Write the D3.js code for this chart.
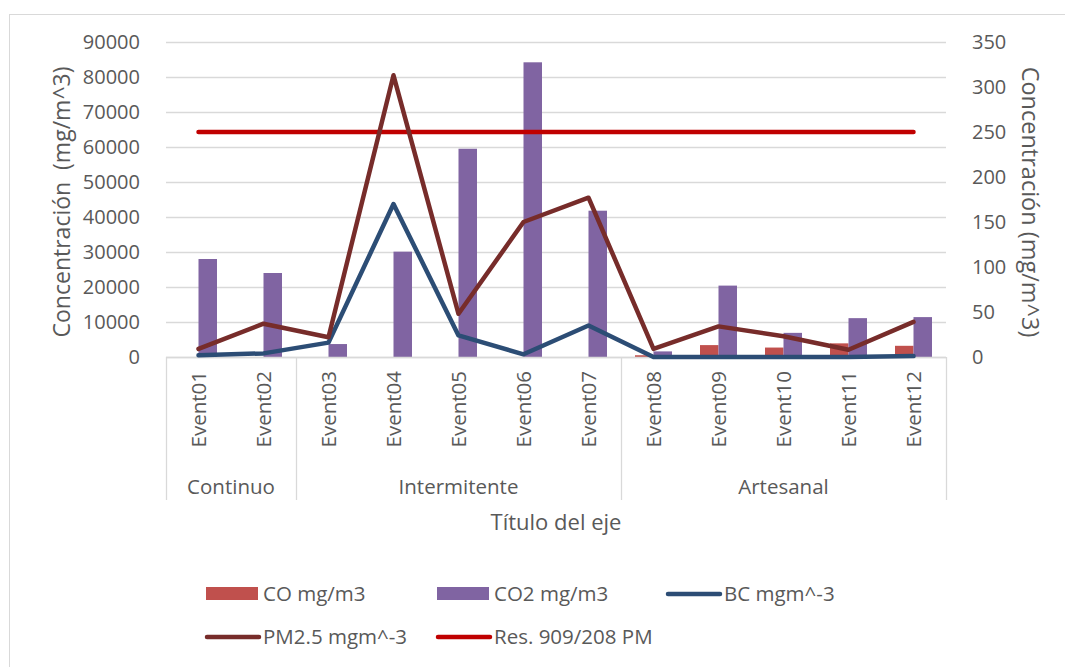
<html>
<head>
<script src="https://cdn.jsdelivr.net/npm/d3@7"></script>
<style>
  body { margin: 0; background: #fff; }
  text { font-family: "Open Sans", sans-serif; fill: #595959; }
</style>
</head>
<body>
<script>
// data
const events = ["Event01","Event02","Event03","Event04","Event05","Event06","Event07","Event08","Event09","Event10","Event11","Event12"];
const groups = [
  {name: "Continuo", from: 0, to: 1},
  {name: "Intermitente", from: 2, to: 6},
  {name: "Artesanal", from: 7, to: 11}
];
const co  = [0, 0, 0, 0, 0, 0, 0, 500, 3400, 2700, 3900, 3200];
const co2 = [28000, 24000, 3700, 30100, 59500, 84200, 41800, 1600, 20400, 6900, 11100, 11400];
const bc  = [2, 4, 16, 170, 24, 3, 35, 0, 0, 0, 0, 1];
const pm25 = [9, 37, 22, 313, 48, 150, 177, 9, 34, 23, 8, 39];
const resLimit = [250, 250, 250, 250, 250, 250, 250, 250, 250, 250, 250, 250];
const leftTicks = [0, 10000, 20000, 30000, 40000, 50000, 60000, 70000, 80000, 90000];
const rightTicks = [0, 50, 100, 150, 200, 250, 300, 350];

const width = 1065, height = 667;
const margin = {top: 42, right: 119, bottom: 310, left: 166};
const grid = "#D9D9D9";

const svg = d3.select("body").append("svg")
  .attr("width", width).attr("height", height);

svg.append("rect")
  .attr("x", 9.5).attr("y", 14.5)
  .attr("width", 1070).attr("height", 670)
  .attr("fill", "none").attr("stroke", grid);

x = d3.scaleBand()
  .domain(events)
  .range([margin.left, width - margin.right])
  .padding(0);

xSub = d3.scaleBand()
  .domain(["co", "co2"])
  .range([14, x.bandwidth() - 14]);

yL = d3.scaleLinear()
  .domain([0, 90000])
  .range([height - margin.bottom, margin.top]);

yR = d3.scaleLinear()
  .domain([0, 350])
  .range([height - margin.bottom, margin.top]);

// gridlines
svg.append("g")
  .selectAll("line")
  .data(leftTicks)
  .join("line")
    .attr("x1", margin.left).attr("x2", width - margin.right)
    .attr("y1", d => Math.round(yL(d)) + 0.5).attr("y2", d => Math.round(yL(d)) + 0.5)
    .attr("stroke", grid).attr("stroke-width", 1.3);

// left axis
yAxisL = g => g
  .attr("transform", `translate(${margin.left - 23},0)`)
  .call(d3.axisLeft(yL).tickValues(leftTicks).tickSize(0).tickFormat(d3.format("d")))
  .call(g => g.select(".domain").remove())
  .call(g => g.selectAll("text").attr("fill", "#595959").style("font-size", "20px").attr("font-family", "Open Sans"));
svg.append("g").call(yAxisL);

// right axis
yAxisR = g => g
  .attr("transform", `translate(${width - margin.right + 23},0)`)
  .call(d3.axisRight(yR).tickValues(rightTicks).tickSize(0))
  .call(g => g.select(".domain").remove())
  .call(g => g.selectAll("text").attr("fill", "#595959").style("font-size", "20px").attr("font-family", "Open Sans"));
svg.append("g").call(yAxisR);

// bars
const barData = events.map((e, i) => [
  {ev: e, key: "co", v: co[i]},
  {ev: e, key: "co2", v: co2[i]}
]).flat();

svg.append("g")
  .selectAll("rect")
  .data(barData)
  .join("rect")
    .attr("x", d => x(d.ev) + xSub(d.key))
    .attr("y", d => yL(d.v))
    .attr("width", xSub.bandwidth())
    .attr("height", d => yL(0) - yL(d.v))
    .attr("fill", d => d.key === "co" ? "#C0504D" : "#8064A2");

// category axis
const axisY = yL(0);
svg.append("line")
  .attr("x1", margin.left).attr("x2", width - margin.right)
  .attr("y1", axisY + 0.5).attr("y2", axisY + 0.5)
  .attr("stroke", grid).attr("stroke-width", 1.3);

const dividers = [0, 2, 7, 12].map(i => i < 12 ? x(events[i]) : x(events[11]) + x.bandwidth());
svg.append("g")
  .selectAll("line")
  .data(dividers)
  .join("line")
    .attr("x1", d => Math.round(d) + 0.5).attr("x2", d => Math.round(d) + 0.5)
    .attr("y1", axisY).attr("y2", 500)
    .attr("stroke", grid).attr("stroke-width", 1.3);

svg.append("g")
  .selectAll("text")
  .data(events)
  .join("text")
    .attr("transform", d => `translate(${x(d) + x.bandwidth() / 2},371) rotate(-90)`)
    .attr("text-anchor", "end")
    .attr("dy", "0.36em")
    .style("font-size", "20.5px")
    .text(d => d);

svg.append("g")
  .selectAll("text")
  .data(groups)
  .join("text")
    .attr("x", d => (x(events[d.from]) + x(events[d.to]) + x.bandwidth()) / 2)
    .attr("y", 494)
    .attr("text-anchor", "middle")
    .style("font-size", "20.5px")
    .text(d => d.name);

svg.append("text")
  .attr("x", 556).attr("y", 530)
  .attr("text-anchor", "middle")
  .style("font-size", "22px")
  .text("Título del eje");

svg.append("text")
  .attr("transform", "translate(70,202) rotate(-90)")
  .attr("text-anchor", "middle")
  .style("font-size", "23px")
  .attr("xml:space", "preserve")
  .style("white-space", "pre")
  .text("Concentración  (mg/m^3)");

svg.append("text")
  .attr("transform", "translate(1022,202) rotate(90)")
  .attr("text-anchor", "middle")
  .style("font-size", "23.5px")
  .text("Concentración (mg/m^3)");

// lines
const cx = (d, i) => x(events[i]) + x.bandwidth() / 2;
const lineSeries = [
  {vals: resLimit, color: "#C00000"},
  {vals: bc, color: "#2C4D75"},
  {vals: pm25, color: "#772C2A"}
];
lineSeries.forEach(s => {
  svg.append("path")
    .datum(s.vals)
    .attr("fill", "none")
    .attr("stroke", s.color)
    .attr("stroke-width", 4.5)
    .attr("stroke-linecap", "round")
    .attr("stroke-linejoin", "round")
    .attr("d", d3.line().x(cx).y(d => yR(d)));
});

// legend
const legend = [
  {label: "CO mg/m3", color: "#C0504D", type: "rect", x: 206, y: 594},
  {label: "CO2 mg/m3", color: "#8064A2", type: "rect", x: 437, y: 594},
  {label: "BC mgm^-3", color: "#2C4D75", type: "line", x: 667, y: 594},
  {label: "PM2.5 mgm^-3", color: "#772C2A", type: "line", x: 206, y: 637},
  {label: "Res. 909/208 PM", color: "#C00000", type: "line", x: 437, y: 637}
];
const lg = svg.append("g")
  .selectAll("g")
  .data(legend)
  .join("g")
    .attr("transform", d => `translate(${d.x},${d.y})`);
lg.filter(d => d.type === "rect").append("rect")
  .attr("x", 0).attr("y", -7).attr("width", 52).attr("height", 13)
  .attr("fill", d => d.color);
lg.filter(d => d.type === "line").append("line")
  .attr("x1", 1).attr("x2", 53).attr("y1", 0).attr("y2", 0)
  .attr("stroke", d => d.color).attr("stroke-width", 4.5).attr("stroke-linecap", "round");
lg.append("text")
  .attr("x", 57).attr("dy", "0.35em")
  .style("font-size", "20.5px")
  .text(d => d.label);
</script>
</body>
</html>
